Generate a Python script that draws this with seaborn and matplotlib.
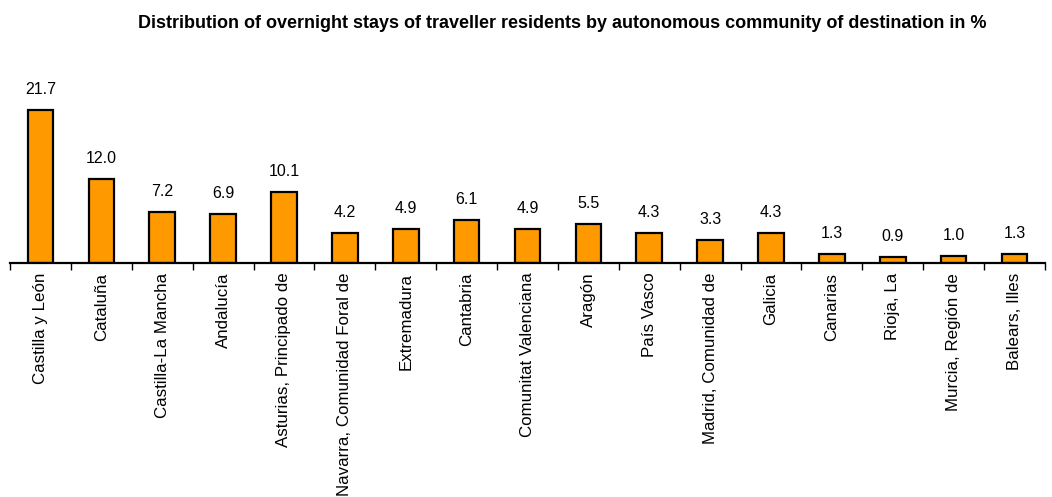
import matplotlib
matplotlib.use("Agg")
import matplotlib.pyplot as plt
import seaborn as sns
import numpy as np
import pandas as pd

communities = [
    "Castilla y León", "Cataluña", "Castilla-La Mancha", "Andalucía",
    "Asturias, Principado de", "Navarra, Comunidad Foral de", "Extremadura",
    "Cantabria", "Comunitat Valenciana", "Aragón", "País Vasco",
    "Madrid, Comunidad de", "Galicia", "Canarias", "Rioja, La",
    "Murcia, Región de", "Balears, Illes",
]
shares = [21.7, 12.0, 7.2, 6.9, 10.1, 4.2, 4.9, 6.1, 4.9, 5.5, 4.3, 3.3, 4.3,
          1.3, 0.9, 1.0, 1.3]
title = "Distribution of overnight stays of traveller residents by autonomous community of destination in %"

sns.set_style("white")
plt.rcParams["font.family"] = ["Liberation Sans", "DejaVu Sans"]
plt.rcParams["text.color"] = "black"
plt.rcParams["xtick.color"] = "black"

df = pd.DataFrame({"community": communities, "share": shares})

fig = plt.figure(figsize=(10.52, 4.97), dpi=100)
ax = fig.add_axes([10 / 1052, 234 / 497, 1035 / 1052, 176 / 497])

sns.barplot(data=df, x="community", y="share", ax=ax, color="#FF9900",
            saturation=1, width=0.42, edgecolor="black", linewidth=1.6)

ax.set_xlim(-0.5, len(communities) - 0.5)
ax.set_ylim(0, 25)

for i, v in enumerate(shares):
    ax.annotate(f"{v:.1f}", (i, v), xytext=(0, 11.5), textcoords="offset points",
                ha="center", va="baseline", fontsize=11.5, color="black")

for s in ["top", "right", "left"]:
    ax.spines[s].set_visible(False)
ax.spines["bottom"].set_linewidth(1.6)
ax.spines["bottom"].set_color("black")
ax.set_yticks([])
ax.set_xlabel("")
ax.set_ylabel("")

# category labels centred under bars, tick marks between categories
ax.set_xticks(np.arange(len(communities)))
ax.set_xticklabels(communities, rotation=90, fontsize=12.2, va="top", ha="center")
ax.tick_params(axis="x", which="major", length=0, pad=7)
ax.set_xticks(np.arange(len(communities) + 1) - 0.5, minor=True)
ax.tick_params(axis="x", which="minor", direction="out", length=5, width=1,
               color="black", bottom=True)

fig.text(0.534, 1 - 23 / 497, title, ha="center", va="center",
         fontsize=13, fontweight="bold")

fig.savefig("out.png", dpi=100)
